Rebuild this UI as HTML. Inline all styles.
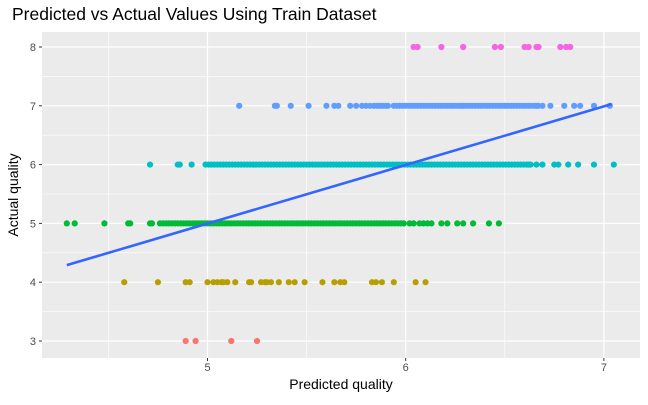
<!DOCTYPE html>
<html><head><meta charset="utf-8"><style>
body{margin:0;background:#fff;font-family:"Liberation Sans",sans-serif}
</style></head><body>
<svg id="chart" width="648" height="400" xmlns="http://www.w3.org/2000/svg">
<text x="12" y="20" font-size="17.5" fill="#000">Predicted vs Actual Values Using Train Dataset</text>
<rect x="42" y="32" width="598" height="326" fill="#EBEBEB"/>
<g id="grid"></g><g id="pts"></g><g id="axes"></g>
<text x="341" y="389" font-size="14" text-anchor="middle">Predicted quality</text>
<text transform="translate(18,195) rotate(-90)" font-size="14" text-anchor="middle">Actual quality</text>
</svg>
<script>
const xTicks=[5,6,7];
const yTicks=[3,4,5,6,7,8];
const q3=[4.89,4.94,5.12,5.25];
const q4=[4.58,4.75,4.89,4.91,5.0,5.03,5.05,5.07,5.08,5.10,5.14,5.21,5.22,5.27,5.29,5.30,5.32,5.36,5.41,5.44,5.49,5.58,5.64,5.67,5.69,5.83,5.85,5.88,5.94,6.05,6.10];
const q5=[4.29,4.33,4.48,4.60,4.61,4.71,4.72,4.76,4.79,4.82,4.85,4.88,4.91,4.94,4.97,5.00,5.03,5.06,5.09,5.12,5.15,5.18,5.21,5.24,5.27,5.30,5.33,5.36,5.39,5.42,5.45,5.48,5.51,5.54,5.57,5.60,5.63,5.66,5.69,5.72,5.75,5.78,5.81,5.84,5.87,5.90,5.93,5.96,5.99,6.02,6.04,6.07,6.09,6.11,6.13,6.18,6.21,6.26,6.29,6.34,6.42,6.47,
4.775,4.805,4.835,4.865,4.895,4.925,4.955,4.985,5.015,5.045,5.075,5.105,5.135,5.165,5.195,5.225,5.255,5.285,5.315,5.345,5.375,5.405,5.435,5.465,5.495,5.525,5.555,5.585,5.615,5.645,5.675,5.705,5.735,5.765,5.795,5.825,5.855,5.885,5.915,5.945,5.975];
const q6=[4.71,4.85,4.86,4.92,4.99,5.02,5.05,5.08,5.11,5.14,5.17,5.20,5.23,5.26,5.29,5.32,5.35,5.38,5.41,5.44,5.47,5.50,5.53,5.56,5.59,5.62,5.65,5.68,5.71,5.74,5.77,5.80,5.83,5.86,5.89,5.92,5.95,5.98,6.01,6.04,6.07,6.10,6.13,6.16,6.19,6.22,6.25,6.28,6.31,6.34,6.37,6.40,6.43,6.46,6.49,6.52,6.55,6.58,6.61,6.63,6.66,6.69,6.75,6.77,6.82,6.87,6.95,7.05,
5.005,5.035,5.065,5.095,5.125,5.155,5.185,5.215,5.245,5.275,5.305,5.335,5.365,5.395,5.425,5.455,5.485,5.515,5.545,5.575,5.605,5.635,5.665,5.695,5.725,5.755,5.785,5.815,5.845,5.875,5.905,5.935,5.965,5.995,6.025,6.055,6.085,6.115,6.145,6.175,6.205,6.235,6.265,6.295,6.325,6.355,6.385,6.415,6.445,6.475,6.505,6.535,6.565,6.595,6.62];
const q7=[5.16,5.34,5.35,5.42,5.51,5.60,5.64,5.66,5.72,5.75,5.78,5.80,5.82,5.84,5.87,5.90,5.91,5.94,5.97,6.00,6.03,6.06,6.09,6.12,6.15,6.18,6.21,6.24,6.27,6.29,6.32,6.35,6.38,6.41,6.44,6.47,6.50,6.53,6.56,6.59,6.62,6.65,6.67,6.69,6.73,6.80,6.85,6.88,6.95,7.03,
5.855,5.885,5.955,5.985,6.015,6.045,6.075,6.105,6.135,6.165,6.195,6.225,6.255,6.28,6.305,6.335,6.365,6.395,6.425,6.455,6.485,6.515,6.545,6.575,6.605,6.635,6.66];
const q8=[6.04,6.06,6.18,6.29,6.45,6.48,6.60,6.62,6.66,6.67,6.78,6.81,6.83];
const classes=[3,4,5,6,7,8];
const colors=["#F8766D","#B79F00","#00BA38","#00BFC4","#619CFF","#F564E3"];
const fitX=[4.29,7.04];
const fitY=[4.29,7.03];
const NS="http://www.w3.org/2000/svg";
const sx=v=>207.5+(v-5)*198.2;
const sy=v=>341-(v-3)*58.8;
function mk(tag,attrs,parent){const e=document.createElementNS(NS,tag);for(const k in attrs)e.setAttribute(k,attrs[k]);parent.appendChild(e);return e;}
const grid=document.getElementById('grid'),pts=document.getElementById('pts'),axes=document.getElementById('axes');
[4.5,5.5,6.5].forEach(v=>{const l=mk('line',{x1:sx(v),x2:sx(v),y1:32,y2:358,stroke:'#fff','stroke-width':0.6},grid);

});
[3.5,4.5,5.5,6.5,7.5].forEach(v=>{const l=mk('line',{x1:42,x2:640,y1:sy(v),y2:sy(v),stroke:'#fff','stroke-width':0.6},grid);

});
xTicks.forEach(v=>{const l=mk('line',{x1:sx(v),x2:sx(v),y1:32,y2:358,stroke:'#fff','stroke-width':1.2},grid);


const t=mk('line',{x1:sx(v),x2:sx(v),y1:358,y2:361,stroke:'#333'},axes);


const tx=mk('text',{x:sx(v),y:371,'font-size':11,'text-anchor':'middle',fill:'#4D4D4D'},axes);tx.textContent=v;

});
yTicks.forEach(v=>{const l=mk('line',{x1:42,x2:640,y1:sy(v),y2:sy(v),stroke:'#fff','stroke-width':1.2},grid);


const t=mk('line',{x1:39,x2:42,y1:sy(v),y2:sy(v),stroke:'#333'},axes);


const tx=mk('text',{x:36,y:sy(v)+4,'font-size':11,'text-anchor':'end',fill:'#4D4D4D'},axes);tx.textContent=v;

});
[q3,q4,q5,q6,q7,q8].forEach((arr,i)=>{arr.forEach(v=>{const c=mk('circle',{cx:sx(v),cy:sy(classes[i]),r:3.1,fill:colors[i]},pts);

});});
const fl=mk('line',{x1:sx(fitX[0]),y1:sy(fitY[0]),x2:sx(fitX[1]),y2:sy(fitY[1]),stroke:'#3366FF','stroke-width':2.6},pts);


</script>
</body></html>
